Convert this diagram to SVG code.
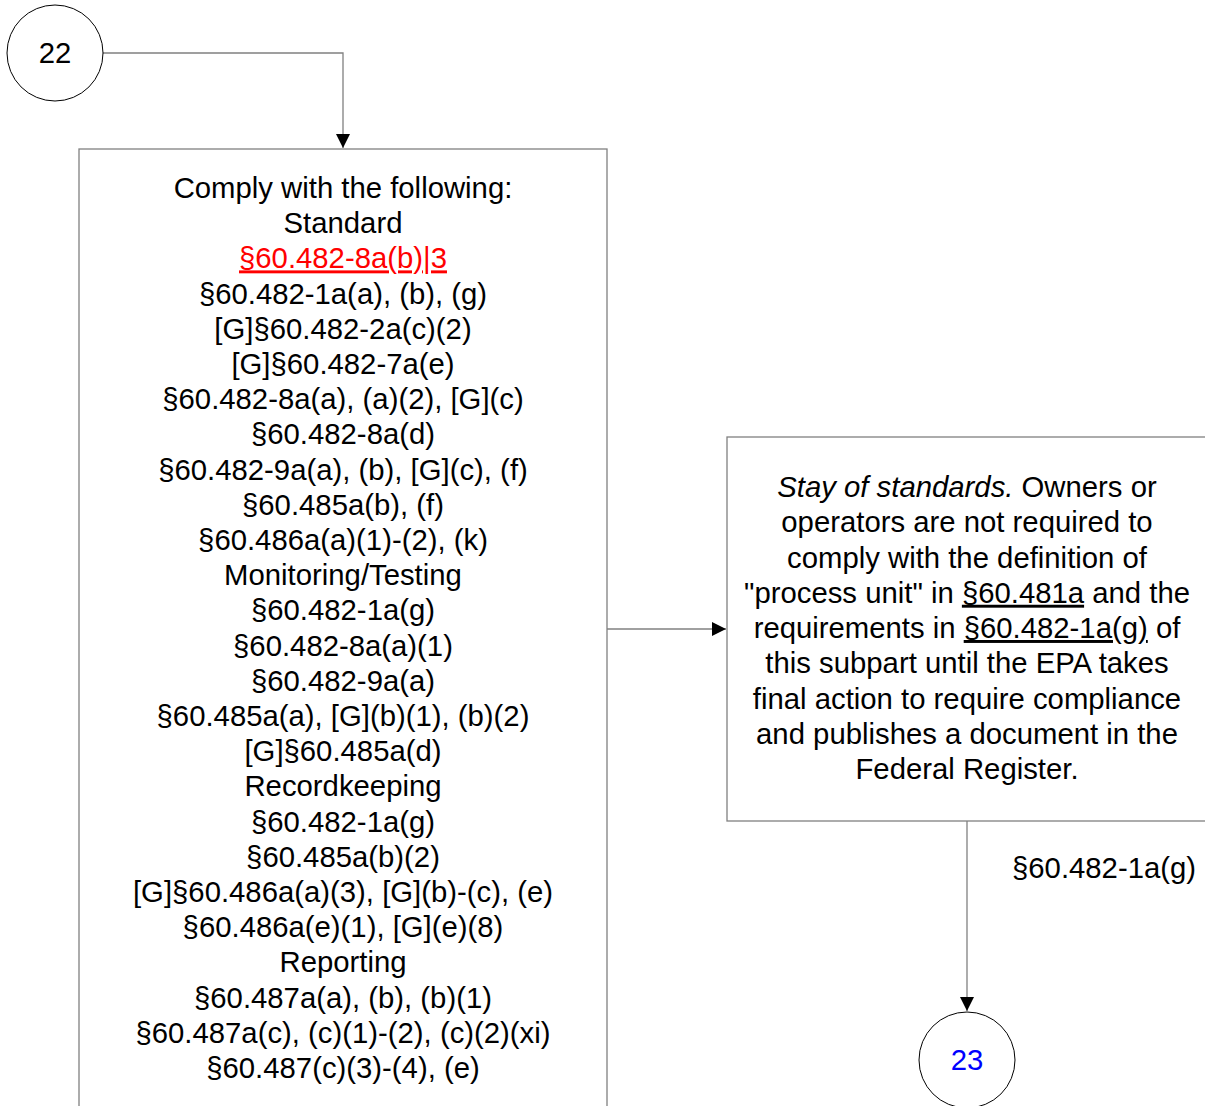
<svg xmlns="http://www.w3.org/2000/svg" width="1205" height="1106" viewBox="0 0 1205 1106">
  <style>
    text { font-family: "Liberation Sans", Arial, sans-serif; font-size: 29.3px; fill: #000; }
    .c { text-anchor: middle; }
    .box { fill: #fff; stroke: #808080; stroke-width: 1.3; }
    .circ { fill: #fff; stroke: #000; stroke-width: 1; }
    .edge { fill: none; stroke: #808080; stroke-width: 1.3; }
    .link { fill: #ff0000; text-decoration: underline; }
    .u { text-decoration: underline; }
    .blue { fill: #0000ff; }
  </style>
  <defs>
    <marker id="arrow" viewBox="0 0 14 14" refX="14" refY="7" markerWidth="14" markerHeight="14" markerUnits="userSpaceOnUse" orient="auto">
      <path d="M0,0 L14,7 L0,14 Z" fill="#000"/>
    </marker>
  </defs>
  <rect width="1205" height="1106" fill="#fff"/>

  <g id="connectors">
    <path class="edge" d="M102,53 H343 V148" marker-end="url(#arrow)"/>
    <path class="edge" d="M607,629 H726" marker-end="url(#arrow)"/>
    <path class="edge" d="M967,821 V1011" marker-end="url(#arrow)"/>
    <text x="1012" y="878">§60.482-1a(g)</text>
  </g>

  <g id="node-22">
    <circle class="circ" cx="55" cy="53" r="48"/>
    <text class="c" x="55" y="63">22</text>
  </g>

  <g id="node-comply" class="c">
    <rect class="box" x="79" y="149" width="528" height="980"/>
    <text class="c" x="343" y="198">Comply with the following:</text>
    <text class="c" x="343" y="233.2">Standard</text>
    <text class="c link" x="343" y="268.4">§60.482-8a(b)|3</text>
    <text class="c" x="343" y="303.6">§60.482-1a(a), (b), (g)</text>
    <text class="c" x="343" y="338.8">[G]§60.482-2a(c)(2)</text>
    <text class="c" x="343" y="374">[G]§60.482-7a(e)</text>
    <text class="c" x="343" y="409.2">§60.482-8a(a), (a)(2), [G](c)</text>
    <text class="c" x="343" y="444.4">§60.482-8a(d)</text>
    <text class="c" x="343" y="479.6">§60.482-9a(a), (b), [G](c), (f)</text>
    <text class="c" x="343" y="514.8">§60.485a(b), (f)</text>
    <text class="c" x="343" y="550">§60.486a(a)(1)-(2), (k)</text>
    <text class="c" x="343" y="585.2">Monitoring/Testing</text>
    <text class="c" x="343" y="620.4">§60.482-1a(g)</text>
    <text class="c" x="343" y="655.6">§60.482-8a(a)(1)</text>
    <text class="c" x="343" y="690.8">§60.482-9a(a)</text>
    <text class="c" x="343" y="726">§60.485a(a), [G](b)(1), (b)(2)</text>
    <text class="c" x="343" y="761.2">[G]§60.485a(d)</text>
    <text class="c" x="343" y="796.4">Recordkeeping</text>
    <text class="c" x="343" y="831.6">§60.482-1a(g)</text>
    <text class="c" x="343" y="866.8">§60.485a(b)(2)</text>
    <text class="c" x="343" y="902">[G]§60.486a(a)(3), [G](b)-(c), (e)</text>
    <text class="c" x="343" y="937.2">§60.486a(e)(1), [G](e)(8)</text>
    <text class="c" x="343" y="972.4">Reporting</text>
    <text class="c" x="343" y="1007.6">§60.487a(a), (b), (b)(1)</text>
    <text class="c" x="343" y="1042.8">§60.487a(c), (c)(1)-(2), (c)(2)(xi)</text>
    <text class="c" x="343" y="1078">§60.487(c)(3)-(4), (e)</text>
  </g>

  <g id="node-stay">
    <rect class="box" x="727" y="437" width="480" height="384"/>
    <text class="c" x="967" y="497"><tspan font-style="italic">Stay of standards.</tspan> Owners or</text>
    <text class="c" x="967" y="532.25">operators are not required to</text>
    <text class="c" x="967" y="567.5">comply with the definition of</text>
    <text class="c" x="967" y="602.75">"process unit" in <tspan class="u">§60.481a</tspan> and the</text>
    <text class="c" x="967" y="638">requirements in <tspan class="u">§60.482-1a(g)</tspan> of</text>
    <text class="c" x="967" y="673.25">this subpart until the EPA takes</text>
    <text class="c" x="967" y="708.5">final action to require compliance</text>
    <text class="c" x="967" y="743.75">and publishes a document in the</text>
    <text class="c" x="967" y="779">Federal Register.</text>
  </g>

  <g id="node-23">
    <circle class="circ" cx="967" cy="1060" r="48"/>
    <text class="c blue" x="967" y="1070">23</text>
  </g>
</svg>
